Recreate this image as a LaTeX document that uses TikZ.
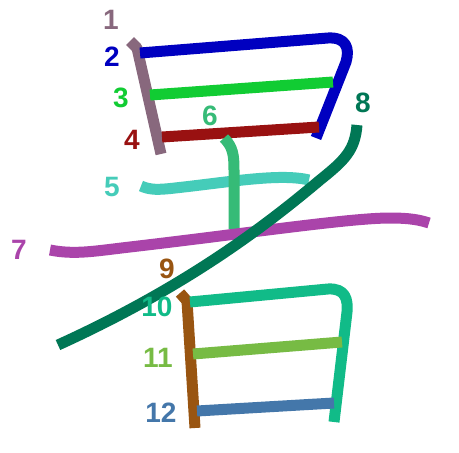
\documentclass[tikz,border=0pt]{standalone}
\usepackage{fontspec}
\setmainfont{Liberation Sans}
\begin{document}
\begin{tikzpicture}[x=1pt,y=-1pt,
  strk/.style={line width=11pt,line cap=butt,line join=round},
  num/.style={font=\fontsize{28}{28}\selectfont\bfseries,inner sep=0pt}]
\definecolor{c1}{RGB}{136,104,125}
\definecolor{c2}{RGB}{0,0,192}
\definecolor{c3}{RGB}{17,204,51}
\definecolor{c4}{RGB}{153,17,17}
\definecolor{c5}{RGB}{69,204,185}
\definecolor{c6}{RGB}{54,187,119}
\definecolor{c7}{RGB}{170,68,170}
\definecolor{c8}{RGB}{0,119,85}
\definecolor{c9}{RGB}{153,85,17}
\definecolor{c10}{RGB}{17,187,136}
\definecolor{c11}{RGB}{119,187,68}
\definecolor{c12}{RGB}{68,119,170}
\useasboundingbox[fill=white] (0,0) rectangle (459,453);
% strokes
\draw[strk,c1] (130,41) -- (137,48) -- (161,154);
\draw[strk,c2] (140,53) -- (328,38) .. controls (346,37) and (350,48) .. (346,62) -- (316,138);
\draw[strk,c3] (150,95) -- (333,82);
\draw[strk,c4] (162,137) -- (319,127);
\draw[strk,c5] (141,186) .. controls (150,190) and (158,190) .. (175,188) .. controls (230,182) and (280,173) .. (309,180);
\draw[strk,c6] (224,138) .. controls (233,147) and (234,155) .. (234,170) -- (234,229);
\draw[strk,c7] (50,250) .. controls (75,255) and (95,251) .. (130,247) .. controls (250,233) and (350,218) .. (390,218) .. controls (410,218) and (420,220) .. (429,223);
\draw[strk,c8] (357,125) .. controls (355,150) and (345,160) .. (320,180) .. controls (270,222) and (190,285) .. (58,345);
\draw[strk,c9] (180,293) -- (187,301) -- (195,428);
\draw[strk,c10] (190,302) -- (328,289) .. controls (346,288) and (348,300) .. (347,312) -- (334,422);
\draw[strk,c11] (193,354) -- (342,342);
\draw[strk,c12] (197,411) -- (334,403);
% labels
\node[num,c1] (l1) at (111,20) {1};
\node[num,c2] (l2) at (112,57) {2};
\node[num,c3] (l3) at (121,98) {3};
\node[num,c4] (l4) at (132,140) {4};
\node[num,c5] (l5) at (112,187) {5};
\node[num,c6] (l6) at (210,116) {6};
\node[num,c7] (l7) at (19,250) {7};
\node[num,c8] (l8) at (363,103) {8};
\node[num,c9] (l9) at (167,269) {9};
\node[num,c10] (l10) at (157,307) {10};
\node[num,c11] (l11) at (158,358) {11};
\node[num,c12] (l12) at (161,413) {12};
\end{tikzpicture}
\end{document}
